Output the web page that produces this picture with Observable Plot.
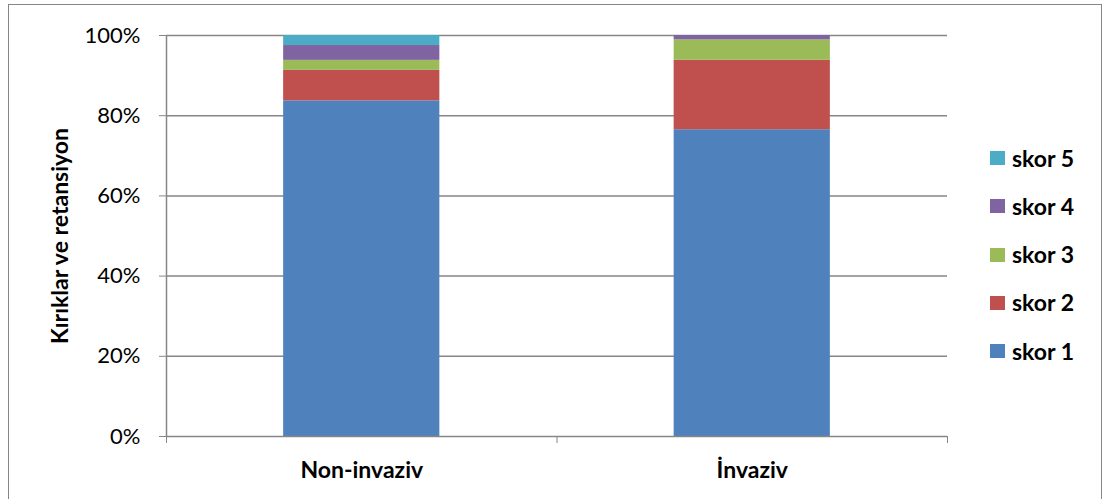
<!DOCTYPE html>
<html>
<head>
<meta charset="utf-8">
<script src="https://cdn.jsdelivr.net/npm/d3@7"></script>
<script src="https://cdn.jsdelivr.net/npm/@observablehq/plot@0.6"></script>
<style>
  html, body { margin: 0; padding: 0; background: #fff; }
  #wrap { position: relative; width: 1105px; height: 499px; overflow: hidden; font-family: Lato, "Open Sans", sans-serif; }
  #border { position: absolute; left: 8px; top: 4px; width: 1094px; height: 520px; border: 1.5px solid #868686; box-sizing: border-box; }
  #chart { position: absolute; left: 0; top: 0; }
  #legend { position: absolute; left: 990px; top: 134px; }
  .item { display: flex; align-items: center; height: 48.25px; }
  .sw { width: 15px; height: 14px; margin-right: 7px; }
  .lbl { font-weight: bold; font-size: 23px; color: #000; line-height: 1; }
</style>
</head>
<body>
<div id="wrap">
  <div id="border"></div>
  <div id="chart"></div>
  <div id="legend"></div>
</div>
<script>
const categories = ["Non-invaziv", "İnvaziv"];
const series = ["skor 1", "skor 2", "skor 3", "skor 4", "skor 5"];
const skor1 = [83.7, 76.5];
const skor2 = [7.6, 17.3];
const skor3 = [2.5, 5.1];
const skor4 = [3.7, 1.1];
const skor5 = [2.5, 0];
const yTicks = [0, 20, 40, 60, 80, 100];
const colors = ["#4F81BD", "#C0504D", "#9BBB59", "#8064A2", "#4BACC6"];
const yTitle = "Kırıklar ve retansiyon";

const values = [skor1, skor2, skor3, skor4, skor5];
const rows = [];
categories.forEach((c, i) => {
  let acc = 0;
  series.forEach((s, k) => {
    const v = values[k][i];
    rows.push({cat: c, i, series: s, y1: acc, y2: acc + v});
    acc += v;
  });
});

const gray = "#868686";
const chart = Plot.plot({
  width: 1105,
  height: 499,
  marginLeft: 166,
  marginRight: 158,
  marginTop: 35,
  marginBottom: 63,
  style: {fontFamily: "Lato, 'Open Sans', sans-serif", background: "transparent", overflow: "visible"},
  x: {domain: [0, categories.length], axis: null},
  y: {domain: [0, 100], axis: null},
  color: {domain: series, range: colors},
  marks: [
    Plot.ruleY(yTicks.filter(d => d > 0), {stroke: gray, strokeWidth: 1.5, strokeOpacity: 1}),
    Plot.rect(rows, {x1: d => d.i + 0.3, x2: d => d.i + 0.7, y1: "y1", y2: "y2", fill: "series"}),
    Plot.ruleY([0], {stroke: gray, strokeWidth: 1.5}),
    Plot.ruleX([0], {y1: 0, y2: 100, stroke: gray, strokeWidth: 1.5}),
    Plot.axisY({ticks: yTicks, tickSize: 7, tickPadding: 19, tickFormat: d => d + "%", fontSize: 22, stroke: gray, color: "#000", label: null}),
    Plot.axisX({ticks: d3.range(categories.length + 1), tickSize: 7, tickFormat: () => "", stroke: gray, label: null}),
    Plot.axisX({ticks: categories.map((c, i) => i + 0.5), tickSize: 0, tickPadding: 25, tickFormat: d => categories[Math.floor(d)], fontSize: 23, fontWeight: "bold", color: "#000", label: null}),
    Plot.text([yTitle], {frameAnchor: "left", rotate: -90, dx: -106, textAnchor: "middle", fontSize: 23, fontWeight: "bold", fill: "#000"})
  ]
});
document.getElementById("chart").appendChild(chart);

const legend = document.getElementById("legend");
series.slice().reverse().forEach(s => {
  const item = document.createElement("div");
  item.className = "item";
  const sw = document.createElement("div");
  sw.className = "sw";
  sw.style.background = colors[series.indexOf(s)];
  const lbl = document.createElement("span");
  lbl.className = "lbl";
  lbl.textContent = s;
  item.appendChild(sw);
  item.appendChild(lbl);
  legend.appendChild(item);
});
</script>
</body>
</html>
